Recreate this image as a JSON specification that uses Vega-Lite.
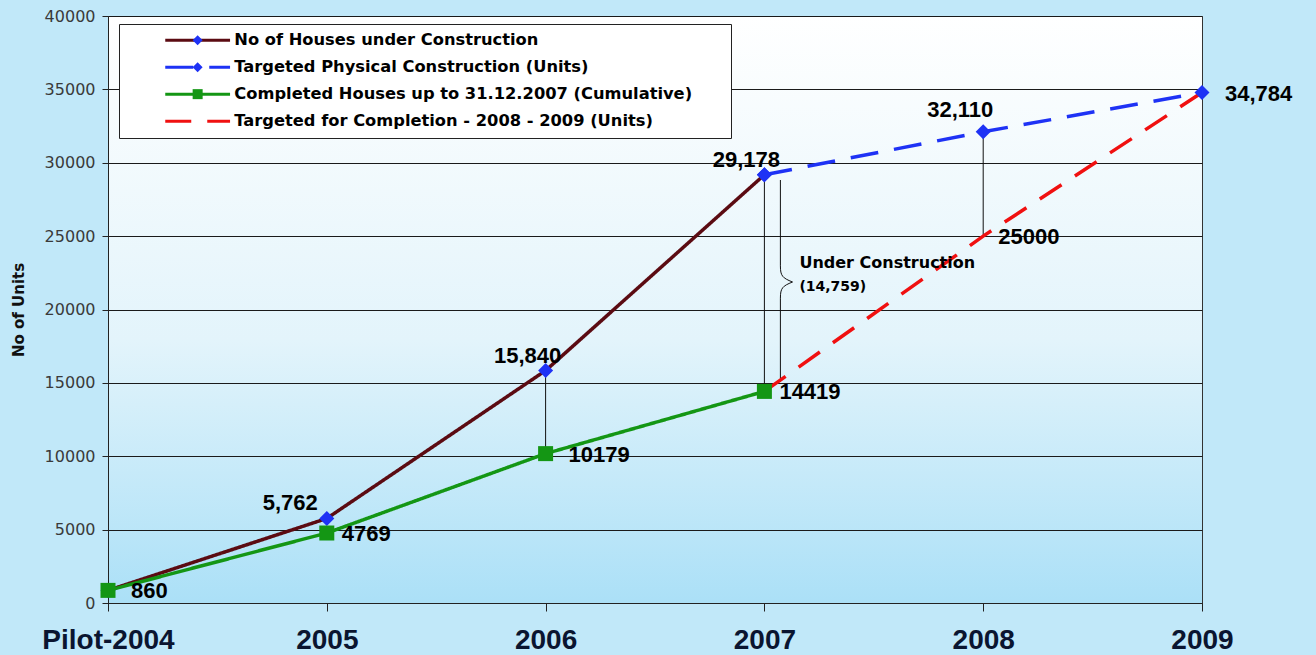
{
  "$schema": "https://vega.github.io/schema/vega-lite/v6.json",
  "width": 1094,
  "height": 587,
  "autosize": {"type": "none"},
  "padding": {"left": 108, "top": 16, "right": 114, "bottom": 52},
  "background": "#c1e8f9",
  "config": {
    "view": {
      "fill": {"gradient": "linear", "x1": 0, "y1": 0, "x2": 0, "y2": 1, "stops": [{"offset": 0, "color": "#ffffff"}, {"offset": 0.55, "color": "#e3f4fb"}, {"offset": 1, "color": "#abe0f7"}]},
      "stroke": "#333333",
      "strokeWidth": 1
    }
  },
  "datasets": {
    "series": [
      {"series": "No of Houses under Construction", "year": "Pilot-2004", "value": 860},
      {"series": "No of Houses under Construction", "year": "2005", "value": 5762},
      {"series": "No of Houses under Construction", "year": "2006", "value": 15840},
      {"series": "No of Houses under Construction", "year": "2007", "value": 29178},
      {"series": "Targeted Physical Construction (Units)", "year": "2007", "value": 29178},
      {"series": "Targeted Physical Construction (Units)", "year": "2008", "value": 32110},
      {"series": "Targeted Physical Construction (Units)", "year": "2009", "value": 34784},
      {"series": "Completed Houses up to 31.12.2007 (Cumulative)", "year": "Pilot-2004", "value": 860},
      {"series": "Completed Houses up to 31.12.2007 (Cumulative)", "year": "2005", "value": 4769},
      {"series": "Completed Houses up to 31.12.2007 (Cumulative)", "year": "2006", "value": 10179},
      {"series": "Completed Houses up to 31.12.2007 (Cumulative)", "year": "2007", "value": 14419},
      {"series": "Targeted for Completion - 2008 - 2009 (Units)", "year": "2007", "value": 14419},
      {"series": "Targeted for Completion - 2008 - 2009 (Units)", "year": "2008", "value": 25000},
      {"series": "Targeted for Completion - 2008 - 2009 (Units)", "year": "2009", "value": 34784}
    ],
    "links": [
      {"year": "2006", "lo": 10179, "hi": 15840},
      {"year": "2007", "lo": 14419, "hi": 29178},
      {"year": "2008", "lo": 25000, "hi": 32110}
    ],
    "brace": [
      {"year": "2007", "value": 21942}
    ],
    "labels": [
      {"year": "Pilot-2004", "value": 860, "label": "860"},
      {"year": "2005", "value": 4769, "label": "4769"},
      {"year": "2006", "value": 10179, "label": "10179"},
      {"year": "2007", "value": 14419, "label": "14419"},
      {"year": "2008", "value": 25000, "label": "25000"},
      {"year": "2009", "value": 34784, "label": "34,784"},
      {"year": "2005", "value": 5762, "label": "5,762"},
      {"year": "2006", "value": 15840, "label": "15,840"},
      {"year": "2007", "value": 29178, "label": "29,178"},
      {"year": "2008", "value": 32110, "label": "32,110"}
    ],
    "notes": [
      {"year": "2007", "value": 23169, "text": "Under Construction", "size": "big"},
      {"year": "2007", "value": 21533, "text": "(14,759)", "size": "small"}
    ]
  },
  "layer": [
    {
      "data": {"name": "links"},
      "mark": {"type": "rule", "color": "#111111", "strokeWidth": 1},
      "encoding": {
        "x": {
          "field": "year", "type": "ordinal",
          "scale": {"type": "point", "padding": 0, "domain": ["Pilot-2004", "2005", "2006", "2007", "2008", "2009"]},
          "axis": {
            "title": null, "labelAngle": 0, "labelFont": "Liberation Sans", "labelFontSize": 28, "labelFontWeight": "bold",
            "labelColor": "#0a1530", "labelPadding": 15, "tickSize": 8, "tickColor": "#222222", "domainColor": "#222222", "grid": false
          }
        },
        "y": {
          "field": "lo", "type": "quantitative",
          "scale": {"domain": [0, 40000], "nice": false},
          "axis": {
            "title": "No of Units", "titleFont": "DejaVu Sans", "titleFontSize": 15, "titleFontWeight": "bold", "titleColor": "#111111",
            "titlePadding": 18, "values": [0, 5000, 10000, 15000, 20000, 25000, 30000, 35000, 40000], "format": "d",
            "labelFont": "DejaVu Sans", "labelFontSize": 16, "labelColor": "#3a3a3a", "labelPadding": 7, "tickSize": 6,
            "tickColor": "#222222", "domainColor": "#222222", "grid": true, "gridColor": "#1a1a1a", "gridWidth": 1
          }
        },
        "y2": {"field": "hi"}
      }
    },
    {
      "data": {"name": "brace"},
      "mark": {
        "type": "point", "shape": "M0,-1L0,-0.15C0,-0.05 0.02,-0.03 0.12,0.01C0.02,0.05 0,0.07 0,0.17L0,1",
        "size": 40804, "filled": false, "fill": null, "stroke": "#111111", "strokeWidth": 1, "opacity": 1, "xOffset": 16
      },
      "encoding": {
        "x": {"field": "year", "type": "ordinal"},
        "y": {"field": "value", "type": "quantitative"}
      }
    },
    {
      "data": {"name": "series"},
      "mark": {"type": "line", "strokeWidth": 3.5, "strokeCap": "butt"},
      "encoding": {
        "x": {"field": "year", "type": "ordinal"},
        "y": {"field": "value", "type": "quantitative"},
        "color": {
          "field": "series", "type": "nominal",
          "scale": {
            "domain": ["No of Houses under Construction", "Targeted Physical Construction (Units)", "Completed Houses up to 31.12.2007 (Cumulative)", "Targeted for Completion - 2008 - 2009 (Units)"],
            "range": ["#5b0b12", "#1e32f5", "#149614", "#f01010"]
          },
          "legend": {
            "title": ".", "titleOrient": "right", "titleOpacity": 0, "titleFontSize": 2, "titlePadding": 30,
            "orient": "none", "legendX": 11, "legendY": 8, "padding": 8,
            "symbolType": "M-5.4,0L5.4,0", "symbolSize": 144, "symbolStrokeWidth": 3, "symbolOffset": 62.5,
            "labelOffset": 28.5, "rowPadding": 10, "labelFont": "DejaVu Sans", "labelFontSize": 16.3, "labelFontWeight": "bold",
            "labelColor": "#000000", "labelLimit": 700, "fillColor": "#ffffff", "strokeColor": "#222222"
          }
        },
        "strokeDash": {
          "field": "series", "type": "nominal",
          "scale": {
            "domain": ["No of Houses under Construction", "Targeted Physical Construction (Units)", "Completed Houses up to 31.12.2007 (Cumulative)", "Targeted for Completion - 2008 - 2009 (Units)"],
            "range": [[1, 0], [28, 16], [1, 0], [26, 16]]
          },
          "legend": {
            "title": ".", "titleOrient": "right", "titleOpacity": 0, "titleFontSize": 2, "titlePadding": 30,
            "orient": "none", "legendX": 11, "legendY": 8, "padding": 8,
            "symbolType": "M-5.4,0L5.4,0", "symbolSize": 144, "symbolStrokeWidth": 3, "symbolOffset": 62.5,
            "labelOffset": 28.5, "rowPadding": 10, "labelFont": "DejaVu Sans", "labelFontSize": 16.3, "labelFontWeight": "bold",
            "labelColor": "#000000", "labelLimit": 700, "fillColor": "#ffffff", "strokeColor": "#222222"
          }
        }
      }
    },
    {
      "data": {"name": "series"},
      "transform": [{"filter": "datum.series != 'Targeted for Completion - 2008 - 2009 (Units)'"}],
      "mark": {"type": "point", "filled": true, "size": 225, "opacity": 1, "strokeWidth": 0},
      "encoding": {
        "x": {"field": "year", "type": "ordinal"},
        "y": {"field": "value", "type": "quantitative"},
        "fill": {
          "field": "series", "type": "nominal",
          "scale": {
            "domain": ["Targeted for Completion - 2008 - 2009 (Units)", "Completed Houses up to 31.12.2007 (Cumulative)", "Targeted Physical Construction (Units)", "No of Houses under Construction"],
            "range": ["transparent", "#149614", "#1e32f5", "#1e32f5"]
          },
          "legend": {
            "title": null, "orient": "none", "legendX": 11, "legendY": 8, "padding": 8,
            "values": ["No of Houses under Construction", "Targeted Physical Construction (Units)", "Completed Houses up to 31.12.2007 (Cumulative)", "Targeted for Completion - 2008 - 2009 (Units)"],
            "symbolSize": 100, "symbolStrokeWidth": 0, "symbolOffset": 62.5, "labelOffset": 28.5, "rowPadding": 10,
            "labelFont": "DejaVu Sans", "labelFontSize": 16.3, "labelFontWeight": "bold", "labelOpacity": 0, "labelLimit": 700
          }
        },
        "shape": {
          "field": "series", "type": "nominal",
          "scale": {
            "domain": ["Targeted for Completion - 2008 - 2009 (Units)", "Completed Houses up to 31.12.2007 (Cumulative)", "Targeted Physical Construction (Units)", "No of Houses under Construction"],
            "range": ["circle", "square", "diamond", "diamond"]
          },
          "legend": {
            "title": null, "orient": "none", "legendX": 11, "legendY": 8, "padding": 8,
            "values": ["No of Houses under Construction", "Targeted Physical Construction (Units)", "Completed Houses up to 31.12.2007 (Cumulative)", "Targeted for Completion - 2008 - 2009 (Units)"],
            "symbolSize": 100, "symbolStrokeWidth": 0, "symbolOffset": 62.5, "labelOffset": 28.5, "rowPadding": 10,
            "labelFont": "DejaVu Sans", "labelFontSize": 16.3, "labelFontWeight": "bold", "labelOpacity": 0, "labelLimit": 700
          }
        }
      }
    },
    {
      "data": {"name": "labels"},
      "transform": [{"filter": "indexof(['860', '10179', '34,784'], datum.label) >= 0"}],
      "mark": {"type": "text", "align": "left", "baseline": "middle", "dx": 23, "dy": 1, "font": "Liberation Sans", "fontSize": 22, "fontWeight": "bold", "color": "#000000"},
      "encoding": {
        "x": {"field": "year", "type": "ordinal"},
        "y": {"field": "value", "type": "quantitative"},
        "text": {"field": "label"}
      }
    },
    {
      "data": {"name": "labels"},
      "transform": [{"filter": "indexof(['4769', '14419', '25000'], datum.label) >= 0"}],
      "mark": {"type": "text", "align": "left", "baseline": "middle", "dx": 15, "dy": 1, "font": "Liberation Sans", "fontSize": 22, "fontWeight": "bold", "color": "#000000"},
      "encoding": {
        "x": {"field": "year", "type": "ordinal"},
        "y": {"field": "value", "type": "quantitative"},
        "text": {"field": "label"}
      }
    },
    {
      "data": {"name": "labels"},
      "transform": [{"filter": "indexof(['15,840', '29,178'], datum.label) >= 0"}],
      "mark": {"type": "text", "align": "center", "baseline": "middle", "dx": -18, "dy": -15, "font": "Liberation Sans", "fontSize": 22, "fontWeight": "bold", "color": "#000000"},
      "encoding": {
        "x": {"field": "year", "type": "ordinal"},
        "y": {"field": "value", "type": "quantitative"},
        "text": {"field": "label"}
      }
    },
    {
      "data": {"name": "labels"},
      "transform": [{"filter": "datum.label == '32,110'"}],
      "mark": {"type": "text", "align": "center", "baseline": "middle", "dx": -23, "dy": -22, "font": "Liberation Sans", "fontSize": 22, "fontWeight": "bold", "color": "#000000"},
      "encoding": {
        "x": {"field": "year", "type": "ordinal"},
        "y": {"field": "value", "type": "quantitative"},
        "text": {"field": "label"}
      }
    },
    {
      "data": {"name": "labels"},
      "transform": [{"filter": "datum.label == '5,762'"}],
      "mark": {"type": "text", "align": "right", "baseline": "middle", "dx": -9, "dy": -15, "font": "Liberation Sans", "fontSize": 22, "fontWeight": "bold", "color": "#000000"},
      "encoding": {
        "x": {"field": "year", "type": "ordinal"},
        "y": {"field": "value", "type": "quantitative"},
        "text": {"field": "label"}
      }
    },
    {
      "data": {"name": "notes"},
      "transform": [{"filter": "datum.size == 'big'"}],
      "mark": {"type": "text", "align": "left", "baseline": "middle", "dx": 35, "font": "DejaVu Sans", "fontSize": 16, "fontWeight": "bold", "color": "#000000"},
      "encoding": {
        "x": {"field": "year", "type": "ordinal"},
        "y": {"field": "value", "type": "quantitative"},
        "text": {"field": "text"}
      }
    },
    {
      "data": {"name": "notes"},
      "transform": [{"filter": "datum.size == 'small'"}],
      "mark": {"type": "text", "align": "left", "baseline": "middle", "dx": 35, "font": "DejaVu Sans", "fontSize": 14, "fontWeight": "bold", "color": "#000000"},
      "encoding": {
        "x": {"field": "year", "type": "ordinal"},
        "y": {"field": "value", "type": "quantitative"},
        "text": {"field": "text"}
      }
    }
  ]
}
